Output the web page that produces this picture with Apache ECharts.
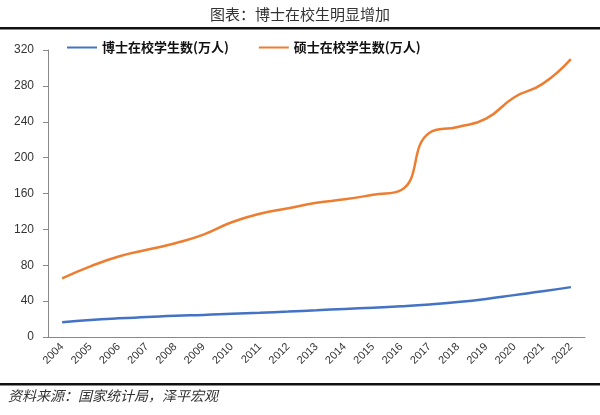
<!DOCTYPE html>
<html><head><meta charset="utf-8">
<script src="https://cdn.jsdelivr.net/npm/echarts@6/dist/echarts.min.js"></script>
<style>body{margin:0}#c{width:600px;height:415px}</style></head>
<body><div id="c"></div>
<script>
const years=['2004','2005','2006','2007','2008','2009','2010','2011','2012','2013','2014','2015','2016','2017','2018','2019','2020','2021','2022'];
const doctor=[16.5,19,20.8,22.2,23.7,24.6,25.9,27.1,28.4,29.8,31.3,32.7,34.2,36.2,38.9,42.4,46.7,50.9,55.6];
const master=[65.4,78.7,89.7,97.2,104.6,114.2,127.9,137.5,143.6,149.6,153.5,158.5,163.9,227.8,234.2,243.5,267.3,282.2,309.8];
const f='"Noto Sans CJK SC", sans-serif';
const ch=echarts.init(document.getElementById('c'));
ch.setOption({
animation:false,
title:{text:'图表：博士在校生明显增加',left:'center',top:2,textStyle:{fontFamily:f,fontSize:15,fontWeight:'normal',color:'#333'}},
graphic:[
{type:'rect',shape:{x:0,y:27,width:600,height:2.5},style:{fill:'#111'}},
{type:'rect',shape:{x:0,y:383,width:600,height:2.5},style:{fill:'#111'}},
{type:'text',left:8,top:389,style:{text:'资料来源：国家统计局，泽平宏观',font:'italic 14px '+f,fill:'#333'}}
],
legend:{top:36,left:62,itemWidth:30,itemHeight:2,itemGap:30,icon:'rect',textStyle:{fontFamily:f,fontSize:13,fontWeight:'bold',color:'#111'}},
grid:{left:48,right:15,top:50,bottom:78},
xAxis:{type:'category',data:years,axisLine:{lineStyle:{color:'#888'}},axisTick:{alignWithLabel:false,lineStyle:{color:'#888'}},axisLabel:{rotate:45,fontSize:11,color:'#333',margin:8,interval:0}},
yAxis:{type:'value',min:0,max:320,interval:40,axisLine:{show:true,lineStyle:{color:'#888'}},axisTick:{show:true,lineStyle:{color:'#888'}},splitLine:{show:false},axisLabel:{fontSize:12,color:'#333',margin:14}},
series:[
{name:'博士在校学生数(万人)',type:'line',data:doctor,smooth:true,showSymbol:false,lineStyle:{width:2.5,color:'#4472C4'},itemStyle:{color:'#4472C4'}},
{name:'硕士在校学生数(万人)',type:'line',data:master,smooth:true,showSymbol:false,lineStyle:{width:2.5,color:'#ED7D31'},itemStyle:{color:'#ED7D31'}}
]});
</script></body></html>
